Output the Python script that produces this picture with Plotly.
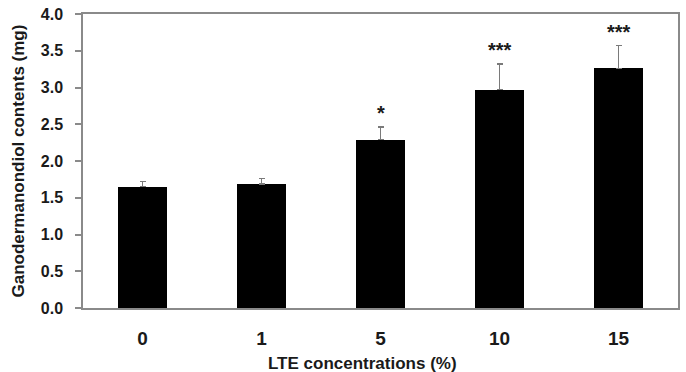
import plotly.graph_objects as go

categories = ["0", "1", "5", "10", "15"]
values = [1.65, 1.69, 2.29, 2.97, 3.26]
errors = [0.07, 0.07, 0.17, 0.35, 0.31]
significance = ["", "", "*", "***", "***"]
y_ticks = [0.0, 0.5, 1.0, 1.5, 2.0, 2.5, 3.0, 3.5, 4.0]

FONT = "Arial, Liberation Sans, sans-serif"
GRAY = "#8a8a8a"
TXT = "#1a1a1a"

xpos = list(range(len(categories)))

fig = go.Figure()
fig.add_trace(go.Bar(
    x=xpos, y=values, width=0.41,
    marker=dict(color="black", line=dict(width=0)),
    error_y=dict(type="data", array=errors, arrayminus=[0] * len(errors),
                 symmetric=False, color="#7a7a7a", thickness=1.5, width=3),
))

for xi, v, e, s in zip(xpos, values, errors, significance):
    if s:
        fig.add_annotation(x=xi, y=v + e, text="<b>%s</b>" % s, showarrow=False,
                           yanchor="bottom", yshift=1,
                           font=dict(family=FONT, size=20, color=TXT))

fig.add_annotation(text="<b>Ganodermanondiol contents (mg)</b>", xref="paper", yref="paper",
                   x=-0.11, y=0.5, textangle=-90, showarrow=False,
                   xanchor="center", yanchor="middle",
                   font=dict(family=FONT, size=17, color=TXT))
fig.add_annotation(text="<b>LTE concentrations (%)</b>", xref="paper", yref="paper",
                   x=0.47, y=-0.188, showarrow=False,
                   xanchor="center", yanchor="middle",
                   font=dict(family=FONT, size=17, color=TXT))

fig.update_layout(
    width=686, height=372,
    margin=dict(l=83, r=6, t=11, b=64),
    paper_bgcolor="white", plot_bgcolor="white",
    showlegend=False, bargap=0,
    xaxis=dict(range=[-0.5, 4.5], tickmode="array", tickvals=xpos,
               ticktext=["<b>%s</b>" % c for c in categories],
               showline=True, linecolor=GRAY, linewidth=1.5, mirror=True,
               ticks="", showgrid=False, zeroline=False,
               ticklabelstandoff=12,
               tickfont=dict(family=FONT, size=19, color=TXT)),
    yaxis=dict(range=[0, 4.0], tickmode="array", tickvals=y_ticks,
               ticktext=["<b>%.1f</b>" % t for t in y_ticks],
               showline=True, linecolor=GRAY, linewidth=1.5, mirror=True,
               ticks="outside", ticklen=6, tickcolor=GRAY, tickwidth=1.5,
               showgrid=False, zeroline=False, ticklabelstandoff=9,
               tickfont=dict(family=FONT, size=16, color=TXT)),
)

fig.write_html("out.html")
